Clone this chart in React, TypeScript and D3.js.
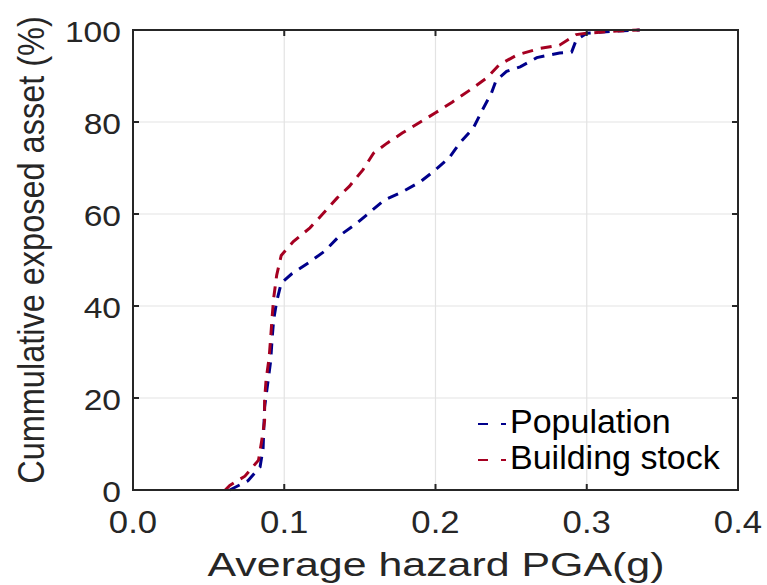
import React, { useEffect, useRef } from 'react';
import * as d3 from 'd3';

// Population curve (PGA in g, cumulative %)
const popX = [0.064, 0.076, 0.084, 0.086, 0.087, 0.089, 0.091, 0.092, 0.093, 0.095, 0.098, 0.105, 0.117, 0.127, 0.137, 0.148, 0.157, 0.166, 0.178, 0.19, 0.2, 0.209, 0.216, 0.225, 0.231, 0.237, 0.24, 0.247, 0.256, 0.267, 0.282, 0.29, 0.293, 0.3, 0.32, 0.335];
const popY = [0, 2, 5, 9, 18, 23, 28, 33, 37, 41, 45, 47, 49.6, 52, 55.4, 58, 60.5, 63, 64.8, 67, 69.6, 72.2, 75.4, 78.7, 82.6, 86.3, 89, 91, 92, 94, 95, 95.2, 97.8, 99.3, 99.8, 100];

// Building stock curve
const bldX = [0.061, 0.064, 0.074, 0.083, 0.085, 0.087, 0.087, 0.088, 0.09, 0.091, 0.092, 0.093, 0.095, 0.098, 0.106, 0.117, 0.126, 0.135, 0.143, 0.152, 0.159, 0.168, 0.178, 0.19, 0.2, 0.211, 0.223, 0.234, 0.242, 0.254, 0.269, 0.282, 0.293, 0.3, 0.32, 0.335];
const bldY = [0, 1, 3, 6.5, 10.5, 15, 19.5, 24, 28.7, 33, 37.6, 41.7, 46.7, 51, 54, 57, 60.2, 63.5, 66, 69.6, 73.2, 75.4, 77.6, 80, 82, 84.3, 87, 89.6, 92.4, 94.6, 96, 96.7, 99, 99.3, 99.8, 100];

const xTicks = [0, 0.1, 0.2, 0.3, 0.4];
const yTicks = [0, 20, 40, 60, 80, 100];

const seriesNames = ['Population', 'Building stock'];
const seriesColors = ['#00008b', '#a50021'];

const W = 767;
const H = 585;
const FONT = '"Liberation Sans", Arial, Helvetica, sans-serif';
const INK = '#262626';

export default function App() {
  const ref = useRef<SVGSVGElement>(null);

  useEffect(() => {
    const svg = d3.select(ref.current);
    svg.selectAll('*').remove();

    const left = 133, right = 738, top = 30, bottom = 490;
    const x = d3.scaleLinear().domain([0, 0.4]).range([left, right]);
    const y = d3.scaleLinear().domain([0, 100]).range([bottom, top]);

    svg.append('rect').attr('width', W).attr('height', H).attr('fill', '#fff');

    // grid
    const g = svg.append('g');
    g.selectAll('.gx')
      .data(xTicks.slice(1, -1))
      .enter()
      .append('line')
      .attr('x1', (d) => x(d)).attr('x2', (d) => x(d))
      .attr('y1', top).attr('y2', bottom)
      .attr('stroke', '#e3e3e3').attr('stroke-width', 1.2);
    g.selectAll('.gy')
      .data(yTicks.slice(1, -1))
      .enter()
      .append('line')
      .attr('x1', left).attr('x2', right)
      .attr('y1', (d) => y(d)).attr('y2', (d) => y(d))
      .attr('stroke', '#e3e3e3').attr('stroke-width', 1.2);

    // curves
    const line = d3.line<[number, number]>()
      .x((d) => x(d[0]))
      .y((d) => y(d[1]));

    const series = [
      popX.map((v, i) => [v, popY[i]] as [number, number]),
      bldX.map((v, i) => [v, bldY[i]] as [number, number]),
    ];

    series.forEach((pts, i) => {
      svg.append('path')
        .attr('d', line(pts))
        .attr('fill', 'none')
        .attr('stroke', seriesColors[i])
        .attr('stroke-width', 3)
        .attr('stroke-dasharray', '11,8');
    });

    // box + inward ticks
    svg.append('rect')
      .attr('x', left).attr('y', top)
      .attr('width', right - left).attr('height', bottom - top)
      .attr('fill', 'none').attr('stroke', INK).attr('stroke-width', 2);

    const tk = 6;
    xTicks.forEach((t) => {
      svg.append('line').attr('x1', x(t)).attr('x2', x(t)).attr('y1', bottom).attr('y2', bottom - tk)
        .attr('stroke', INK).attr('stroke-width', 2);
      svg.append('line').attr('x1', x(t)).attr('x2', x(t)).attr('y1', top).attr('y2', top + tk)
        .attr('stroke', INK).attr('stroke-width', 2);
    });
    yTicks.forEach((t) => {
      svg.append('line').attr('x1', left).attr('x2', left + tk).attr('y1', y(t)).attr('y2', y(t))
        .attr('stroke', INK).attr('stroke-width', 2);
      svg.append('line').attr('x1', right).attr('x2', right - tk).attr('y1', y(t)).attr('y2', y(t))
        .attr('stroke', INK).attr('stroke-width', 2);
    });

    // tick labels (slightly wide glyphs, as in the original export)
    svg.selectAll('.xt')
      .data(xTicks)
      .enter()
      .append('text')
      .attr('transform', (d) => `translate(${x(d)},533) scale(1.12,1)`)
      .attr('text-anchor', 'middle')
      .attr('font-family', FONT)
      .attr('font-size', 31)
      .attr('fill', INK)
      .text((d) => d3.format('.1f')(d));

    svg.selectAll('.yt')
      .data(yTicks)
      .enter()
      .append('text')
      .attr('transform', (d) => `translate(121,${y(d) + 12}) scale(1.12,1)`)
      .attr('text-anchor', 'end')
      .attr('font-family', FONT)
      .attr('font-size', 30)
      .attr('fill', INK)
      .text((d) => String(d));

    // axis labels
    svg.append('text')
      .attr('transform', 'translate(436,576) scale(1.32,1)')
      .attr('text-anchor', 'middle')
      .attr('font-family', FONT).attr('font-size', 32.5)
      .attr('fill', INK)
      .text('Average hazard PGA(g)');

    svg.append('text')
      .attr('transform', 'translate(44,250) rotate(-90) scale(1,1.14)')
      .attr('text-anchor', 'middle')
      .attr('font-family', FONT).attr('font-size', 32.5)
      .attr('fill', INK)
      .text('Cummulative exposed asset (%)');

    // legend
    seriesNames.forEach((name, i) => {
      const base = 433 + i * 36;
      svg.append('line')
        .attr('x1', 478).attr('x2', 506).attr('y1', base - 9).attr('y2', base - 9)
        .attr('stroke', seriesColors[i]).attr('stroke-width', 2.2)
        .attr('stroke-dasharray', '10,13');
      svg.append('text')
        .attr('x', 510).attr('y', base)
        .attr('font-family', FONT).attr('font-size', 34)
        .attr('fill', '#000')
        .text(name);
    });
  }, []);

  return (
    <svg ref={ref} width={W} height={H} style={{ display: 'block', position: 'absolute', left: 0, top: 0 }} />
  );
}
